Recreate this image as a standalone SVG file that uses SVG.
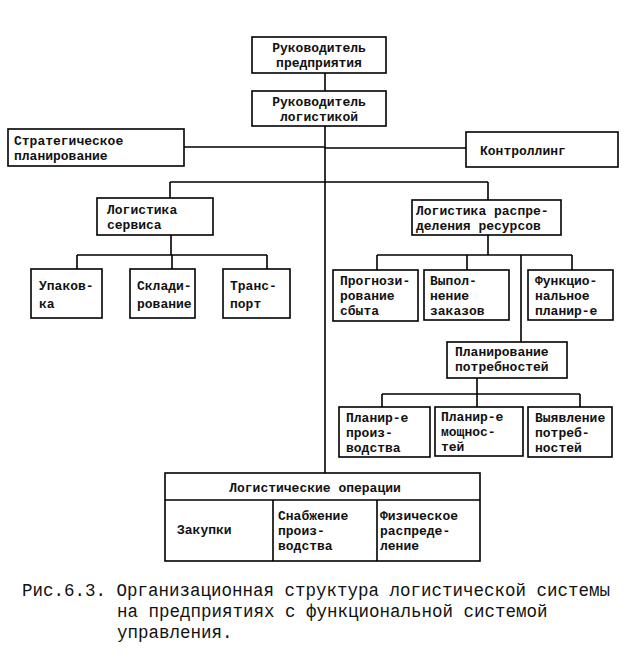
<svg xmlns="http://www.w3.org/2000/svg" width="644" height="664" viewBox="0 0 644 664">
<style>
.b{fill:#fff;stroke:#000;stroke-width:1.6}
.t{font-family:"Liberation Mono","DejaVu Sans Mono",monospace;font-size:13px;font-weight:bold;fill:#111}
.c{font-family:"Liberation Mono","DejaVu Sans Mono",monospace;font-size:17.5px;fill:#111}
.l{fill:none;stroke:#000;stroke-width:1.6}
</style>
<rect width="644" height="664" fill="#fff"/>
<g id="connectors" class="l">
<path d="M325 73V91"/>
<path d="M325 126V473"/>
<path d="M184 147H325M325 148H467"/>
<path d="M170 182H488M170 182V198M488 182V200"/>
<path d="M171 235V255M77 255H267M77 255V269M172 255V269M267 255V269"/>
<path d="M488 235V255M377 255H572M377 255V270M467 255V270M572 255V270M521 255V342"/>
<path d="M477 378V394M382 394H580M382 394V407M477 394V407M580 394V407"/>
</g>
<g id="n1"><rect class="b" x="252" y="37" width="134" height="36"/><text class="t" x="319" y="52" text-anchor="middle">Руководитель</text><text class="t" x="319" y="67" text-anchor="middle">предприятия</text></g>
<g id="n2"><rect class="b" x="252" y="91" width="134" height="35"/><text class="t" x="319" y="106" text-anchor="middle">Руководитель</text><text class="t" x="319" y="121" text-anchor="middle">логистикой</text></g>
<g id="n3"><rect class="b" x="8" y="129" width="176" height="37"/><text class="t" x="14" y="145">Стратегическое</text><text class="t" x="14" y="160">планирование</text></g>
<g id="n4"><rect class="b" x="466" y="132" width="152" height="35"/><text class="t" x="480" y="155">Контроллинг</text></g>
<g id="n5"><rect class="b" x="97" y="198" width="116" height="37"/><text class="t" x="107" y="214">Логистика</text><text class="t" x="107" y="229">сервиса</text></g>
<g id="n6"><rect class="b" x="412" y="200" width="149" height="35"/><text class="t" x="416" y="215">Логистика распре-</text><text class="t" x="416" y="230">деления ресурсов</text></g>
<g id="n7"><rect class="b" x="31" y="269" width="71" height="49"/><text class="t" x="39" y="290">Упаков-</text><text class="t" x="39" y="308">ка</text></g>
<g id="n8"><rect class="b" x="130" y="269" width="65" height="49"/><text class="t" x="137" y="290">Склади-</text><text class="t" x="137" y="308">рование</text></g>
<g id="n9"><rect class="b" x="223" y="269" width="67" height="49"/><text class="t" x="230" y="290">Транс-</text><text class="t" x="230" y="308">порт</text></g>
<g id="n10"><rect class="b" x="333" y="270" width="85" height="51"/><text class="t" x="340" y="285">Прогнози-</text><text class="t" x="340" y="300">рование</text><text class="t" x="340" y="315">сбыта</text></g>
<g id="n11"><rect class="b" x="424" y="270" width="85" height="50"/><text class="t" x="430" y="285">Выпол-</text><text class="t" x="430" y="300">нение</text><text class="t" x="430" y="315">заказов</text></g>
<g id="n12"><rect class="b" x="528" y="270" width="85" height="50"/><text class="t" x="535" y="285">Функцио-</text><text class="t" x="535" y="300">нальное</text><text class="t" x="535" y="315">планир-е</text></g>
<g id="n13"><rect class="b" x="447" y="342" width="120" height="36"/><text class="t" x="455" y="356">Планирование</text><text class="t" x="455" y="371">потребностей</text></g>
<g id="n14"><rect class="b" x="339" y="407" width="91" height="50"/><text class="t" x="346" y="422">Планир-е</text><text class="t" x="346" y="437">произ-</text><text class="t" x="346" y="452">водства</text></g>
<g id="n15"><rect class="b" x="435" y="407" width="88" height="49"/><text class="t" x="441" y="421">Планир-е</text><text class="t" x="441" y="436">мощнос-</text><text class="t" x="441" y="451">тей</text></g>
<g id="n16"><rect class="b" x="528" y="407" width="84" height="50"/><text class="t" x="535" y="422">Выявление</text><text class="t" x="535" y="437">потреб-</text><text class="t" x="535" y="452">ностей</text></g>
<g id="n17"><rect class="b" x="165" y="473" width="315" height="88"/><path class="l" d="M165 500H480M273 500V561M377 500V561"/><text class="t" x="315" y="492" text-anchor="middle">Логистические операции</text><text class="t" x="177" y="534">Закупки</text><text class="t" x="278" y="520">Снабжение</text><text class="t" x="278" y="535">произ-</text><text class="t" x="278" y="550">водства</text><text class="t" x="380" y="520">Физическое</text><text class="t" x="380" y="535">распреде-</text><text class="t" x="380" y="550">ление</text></g>
<g id="caption"><text class="c" x="22" y="596">Рис.6.3. Организационная структура логистической системы</text><text class="c" x="117" y="617">на предприятиях с функциональной системой</text><text class="c" x="117" y="638">управления.</text></g>
</svg>
